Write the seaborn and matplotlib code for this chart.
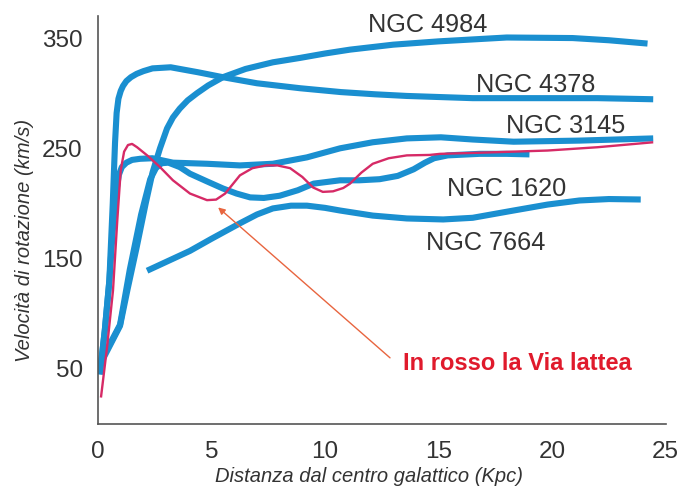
import matplotlib
matplotlib.use("Agg")
import matplotlib.pyplot as plt
import seaborn as sns
import pandas as pd

# Rotation curves: distance from the galactic centre (kpc) vs rotation speed (km/s)
ngc4984_x = [0.12, 0.97, 1.3, 1.7, 2.1, 2.4, 2.73, 3.04, 3.3, 3.6, 3.95, 4.36, 4.85,
             5.5, 6.5, 7.7, 8.9, 10.0, 11.1, 13.0, 15.0, 18.0, 20.9, 22.5, 24.2]
ngc4984_y = [55, 89, 122, 160, 200, 228, 250, 268, 278, 286, 293.5, 300, 307,
             314.5, 322, 328, 332, 336, 339.5, 344, 347, 350.5, 350, 348, 345]

ngc4378_x = [0.08, 0.3, 0.5, 0.65, 0.75, 0.82, 0.9, 1.0, 1.1, 1.25, 1.45, 1.7, 2.0,
             2.4, 3.2, 4.4, 5.5, 7.0, 8.9, 10.7, 12.2, 13.6, 16.5, 19.5, 22.0, 24.45]
ngc4378_y = [45, 85, 130, 200, 255, 282, 295, 302, 306.5, 311, 314.5, 317.5, 320,
             322.5, 323.5, 319, 314.5, 309, 304.5, 301, 299, 297.5, 295.5, 295.5,
             295.5, 294.5]

ngc3145_x = [0.08, 0.3, 0.5, 0.65, 0.8, 0.92, 1.05, 1.25, 1.5, 1.85, 2.4, 3.3, 4.8,
             6.25, 7.7, 9.2, 10.66, 12.1, 13.6, 15.1, 16.5, 18.3, 21.2, 24.45]
ngc3145_y = [45, 85, 130, 175, 210, 226, 233, 237, 239.5, 240.5, 241, 237, 236,
             234.5, 236, 241.8, 250, 255.5, 259, 260, 258, 256, 257, 259]

ngc1620_x = [0.15, 0.97, 1.4, 1.9, 2.3, 2.55, 2.8, 3.1, 3.6, 4.05, 4.8, 5.5, 6.1, 6.7,
             7.3, 8.0, 8.8, 9.5, 10.66, 11.5, 12.4, 13.2, 13.9, 14.4, 14.8, 15.4,
             16.8, 18.0, 19.0]
ngc1620_y = [58, 90, 140, 190, 222, 232, 236.5, 237, 233, 227, 220, 213.6, 209, 205.5,
             205, 207, 212, 218, 221, 221, 222, 225, 231, 237, 241, 243.6,
             245, 245, 244.5]

ngc7664_x = [2.16, 3.0, 4.05, 5.0, 6.25, 7.0, 7.7, 8.5, 9.2, 10.0, 10.66, 12.1, 13.6,
             15.2, 16.5, 18.3, 19.8, 21.2, 22.5, 23.9]
ngc7664_y = [139, 147, 157, 168, 182, 190, 195.5, 198, 198, 196, 193.6, 189, 186.4,
             185.5, 187, 193.6, 199, 202.7, 204, 203.6]

milkyway_x = [0.13, 0.4, 0.66, 0.85, 1.0, 1.15, 1.32, 1.5, 1.72, 2.2, 2.73, 3.3, 4.05,
              4.8, 5.2, 5.6, 6.25, 6.8, 7.4, 7.9, 8.46, 9.0, 9.47, 9.9, 10.35, 10.8,
              11.1, 11.6, 12.1, 12.8, 13.6, 14.6, 15.07, 16.8, 19.8, 22.0, 24.45]
milkyway_y = [24, 70, 121, 185, 230, 247, 253, 254, 251, 243, 233, 221, 209,
              203, 203.5, 209, 225.5, 232, 234.5, 234.5, 232, 224, 214.5, 210.5, 211, 214,
              218, 228, 236, 241, 243.6, 244, 245, 246, 248, 251, 255.5]

galaxy_names = ["NGC 4984", "NGC 4378", "NGC 3145", "NGC 1620", "NGC 7664"]
label_x = [11.9, 16.65, 17.98, 15.38, 14.45]
label_y = [355.5, 300.9, 264, 206.5, 158]

milkyway_label = "In rosso la Via lattea"
x_ticks = [0, 5, 10, 15, 20, 25]
y_ticks = [50, 150, 250, 350]

BLUE = "#1a8fd0"
RED_LINE = "#d62a66"
RED_TEXT = "#e01a2c"
ARROW = "#e8653f"
SPINE = "#555555"
TEXT = "#333333"

sns.set_theme(style="white")
plt.rcParams["font.family"] = ["Liberation Sans", "DejaVu Sans"]

curves = {
    "NGC 4984": (ngc4984_x, ngc4984_y),
    "NGC 4378": (ngc4378_x, ngc4378_y),
    "NGC 3145": (ngc3145_x, ngc3145_y),
    "NGC 1620": (ngc1620_x, ngc1620_y),
    "NGC 7664": (ngc7664_x, ngc7664_y),
}
frames = [pd.DataFrame({"galaxy": name, "r": xs, "v": ys})
          for name, (xs, ys) in curves.items()]
blue_df = pd.concat(frames, ignore_index=True)
mw_df = pd.DataFrame({"galaxy": "Via lattea", "r": milkyway_x, "v": milkyway_y})

fig = plt.figure(figsize=(6.96, 4.95), dpi=100)
ax = fig.add_axes([98 / 696, 71 / 495, 567.7 / 696, 408 / 495])

sns.lineplot(data=blue_df, x="r", y="v", units="galaxy", estimator=None, sort=False,
             color=BLUE, linewidth=4.4, ax=ax, solid_capstyle="butt",
             solid_joinstyle="round", legend=False)
sns.lineplot(data=mw_df, x="r", y="v", estimator=None, sort=False,
             color=RED_LINE, linewidth=1.7, ax=ax, solid_capstyle="butt",
             solid_joinstyle="round", legend=False)

ax.set_xlim(0, 25)
ax.set_ylim(0, 370)
ax.set_xticks(x_ticks)
ax.set_yticks(y_ticks)
ax.set_xticklabels([str(t) for t in x_ticks])
ax.set_yticklabels([str(t) for t in y_ticks])

for side in ("top", "right"):
    ax.spines[side].set_visible(False)
for side in ("left", "bottom"):
    ax.spines[side].set_color(SPINE)
    ax.spines[side].set_linewidth(1.2)

ax.tick_params(axis="both", direction="in", length=13.7, width=1.0, color=SPINE,
               labelsize=17.5, labelcolor=TEXT)
ax.tick_params(axis="y", pad=11)
ax.tick_params(axis="x", pad=12)

ax.set_xlabel("Distanza dal centro galattico (Kpc)", fontsize=14.5, style="italic",
              color=TEXT)
ax.set_ylabel("Velocità di rotazione (km/s)", fontsize=14.5, style="italic",
              color=TEXT)
ax.xaxis.set_label_coords(0.477, -0.106)
ax.yaxis.set_label_coords(-0.113, 0.449)

for name, lx, ly in zip(galaxy_names, label_x, label_y):
    ax.text(lx, ly, name, fontsize=18.2, color=TEXT, ha="left", va="baseline")

ax.text(13.44, 49, milkyway_label, fontsize=17, fontweight="bold", color=RED_TEXT,
        ha="left", va="baseline")
ax.annotate("", xy=(5.29, 196.4), xytext=(12.86, 60),
            arrowprops=dict(arrowstyle="-|>", color=ARROW, lw=1.0,
                            mutation_scale=10, shrinkA=0, shrinkB=0))

fig.savefig("out.png", dpi=100)
